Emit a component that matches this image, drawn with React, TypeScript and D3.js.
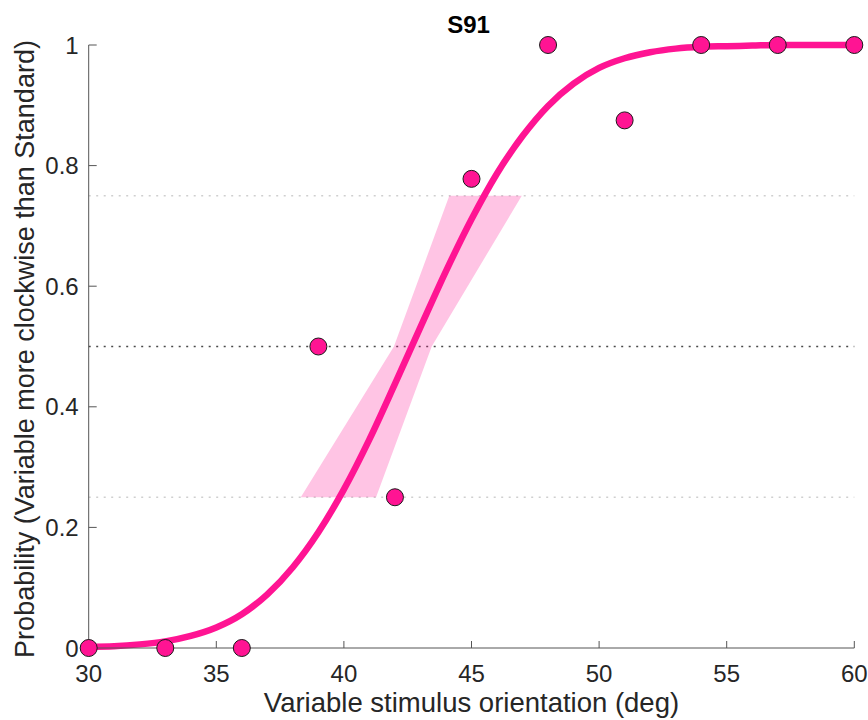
import React from "react";
import * as d3 from "d3";

// observed proportion "clockwise" at each variable orientation
const stimDeg = [30, 33, 36, 39, 42, 45, 48, 51, 54, 57, 60];
const propCW = [0, 0, 0, 0.5, 0.25, 0.778, 1, 0.875, 1, 1, 1];

// fitted psychometric curve
const fitDeg = [30, 31, 32, 33, 34, 35, 36, 37, 38, 39, 40, 41, 42, 43, 44, 45,
  46, 47, 48, 49, 50, 51, 52, 53, 54, 55, 56, 57, 58, 59, 60];
const fitP = [0.002, 0.003, 0.006, 0.011, 0.02, 0.034, 0.056, 0.089, 0.134, 0.192,
  0.263, 0.346, 0.438, 0.532, 0.625, 0.711, 0.787, 0.849, 0.899, 0.936, 0.962,
  0.978, 0.988, 0.994, 0.997, 0.998, 0.999, 1, 1, 1, 1];

// threshold confidence band at the three reference levels
const bandLevels = [0.25, 0.5, 0.75];
const bandLow = [38.31, 41.96, 44.13];
const bandHigh = [41.26, 43.44, 46.97];

const refLevels = [0.25, 0.5, 0.75];
const xTicks = [30, 35, 40, 45, 50, 55, 60];
const yTicks = [0, 0.2, 0.4, 0.6, 0.8, 1];

const PINK = "#ff1493";
const FONT = "'Liberation Sans', Arial, sans-serif";

export default function App() {
  const x = d3.scaleLinear().domain([30, 60]).range([88.7, 854.3]);
  const y = d3.scaleLinear().domain([0, 1]).range([648, 45]);

  const fitLine = d3.line<number>()
    .x((d, i) => x(fitDeg[i]))
    .y((d) => y(d))
    .curve(d3.curveMonotoneX);

  const bandPts = [
    ...bandLevels.map((l, i) => [x(bandLow[i]), y(l)]),
    ...bandLevels.map((l, i) => [x(bandHigh[i]), y(l)]).reverse(),
  ];
  const bandPath = "M" + bandPts.map((p) => p.join(",")).join("L") + "Z";

  const [x0, x1] = x.range();
  const [yb, yt] = y.range();

  return (
    <svg width={868} height={720} style={{ position: "absolute", left: 0, top: 0, background: "#fff" }}
      fontFamily={FONT}>
      {/* reference levels */}
      {refLevels.map((l) => (
        <line key={l} x1={x0} x2={x1} y1={y(l)} y2={y(l)}
          stroke={l === 0.5 ? "#4a4a4a" : "#cfcfcf"} strokeWidth={1.3}
          strokeDasharray="2,5.5" />
      ))}

      <path d={bandPath} fill={PINK} fillOpacity={0.25} />

      <path d={fitLine(fitP) || ""} fill="none" stroke={PINK} strokeWidth={6.5} />

      {/* axes */}
      <g stroke="#555" strokeWidth={1} fill="none">
        <line x1={x0} x2={x0} y1={yb} y2={yt} />
        <line x1={x0} x2={x1} y1={yb} y2={yb} />
        {yTicks.map((t) => (
          <line key={"yt" + t} x1={x0} x2={x0 + 8} y1={y(t)} y2={y(t)} />
        ))}
        {xTicks.map((t) => (
          <line key={"xt" + t} x1={x(t)} x2={x(t)} y1={yb} y2={yb - 7} />
        ))}
      </g>

      {stimDeg.map((d, i) => (
        <circle key={d} cx={x(d)} cy={y(propCW[i])} r={8.5}
          fill={PINK} stroke="#1a1a1a" strokeWidth={1} />
      ))}

      <g fill="#262626" fontSize={24}>
        {yTicks.map((t) => (
          <text key={"yl" + t} x={x0 - 10} y={y(t) + 8.5} textAnchor="end">{String(t)}</text>
        ))}
        {xTicks.map((t) => (
          <text key={"xl" + t} x={x(t)} y={682} textAnchor="middle">{String(t)}</text>
        ))}
      </g>

      <text x={(x0 + x1) / 2} y={712} textAnchor="middle" fontSize={27.5} fill="#262626">
        Variable stimulus orientation (deg)
      </text>
      <text transform={`translate(34,349) rotate(-90)`} textAnchor="middle"
        fontSize={27} fill="#262626">
        Probability (Variable more clockwise than Standard)
      </text>
      <text x={(x0 + x1) / 2 - 3} y={33} textAnchor="middle" fontSize={24} fontWeight="bold" fill="#000">
        S91
      </text>
    </svg>
  );
}
